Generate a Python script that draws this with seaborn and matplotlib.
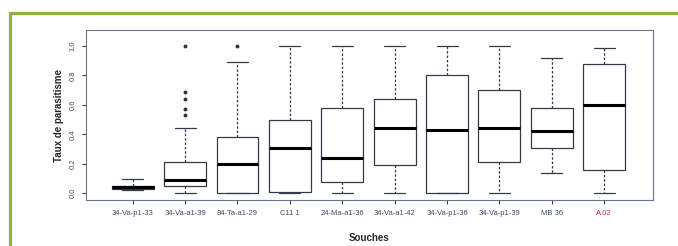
import pandas as pd
import matplotlib.pyplot as plt
import seaborn as sns
from matplotlib.lines import Line2D

# Souches et statistiques des boîtes (min, Q1, médiane, Q3, max des moustaches)
souches = ['34-Va-p1-33', '34-Va-a1-39', '84-Ta-a1-29', 'C11 1', '24-Ma-a1-36',
           '34-Va-a1-42', '34-Va-p1-36', '34-Va-p1-39', 'MB 36', 'A.02']
bas = [0.02, 0.00, 0.00, 0.00, 0.00, 0.00, 0.00, 0.00, 0.14, 0.00]
q1 = [0.03, 0.05, 0.00, 0.01, 0.075, 0.19, 0.00, 0.215, 0.31, 0.16]
mediane = [0.04, 0.09, 0.20, 0.31, 0.24, 0.44, 0.43, 0.44, 0.425, 0.60]
q3 = [0.05, 0.21, 0.38, 0.50, 0.58, 0.64, 0.80, 0.70, 0.58, 0.88]
haut = [0.10, 0.44, 0.89, 1.00, 1.00, 1.00, 1.00, 1.00, 0.92, 0.99]

# valeurs atypiques
atyp_souche = ['34-Va-a1-39'] * 5 + ['84-Ta-a1-29']
atyp_val = [1.00, 0.69, 0.64, 0.57, 0.53, 1.00]

lignes = []
for i, s in enumerate(souches):
    for v in (bas[i], q1[i], mediane[i], q3[i], haut[i]):
        lignes.append({'Souches': s, 'Taux': v})
df = pd.DataFrame(lignes)
df_atyp = pd.DataFrame({'Souches': atyp_souche, 'Taux': atyp_val})

sns.set_style('white')
plt.rcParams['font.family'] = ['Liberation Sans', 'DejaVu Sans']

fig = plt.figure(figsize=(6.78, 2.46), dpi=100)
ax = fig.add_axes([0.127, 0.187, 0.836, 0.691])

bord = '#343a4c'
sns.boxplot(data=df, x='Souches', y='Taux', order=souches, whis=(0, 100),
            width=0.8, color='white', linecolor=bord, linewidth=0.9,
            whiskerprops={'linestyle': (0, (2, 1.5))},
            medianprops={'color': 'black', 'linewidth': 2.2},
            ax=ax)
sns.stripplot(data=df_atyp, x='Souches', y='Taux', order=souches, jitter=False,
              color='#333333', size=2.8, ax=ax)

ax.set_xlim(-0.89, 9.93)
ax.set_ylim(-0.046, 1.109)
ax.set_yticks([0.0, 0.2, 0.4, 0.6, 0.8, 1.0])
ax.set_yticklabels(['0.0', '0.2', '0.4', '0.6', '0.8', '1.0'], rotation=90,
                   va='center', fontsize=5.5, color='#3c4a6e')
ax.set_xticks(range(len(souches)))
ax.set_xticklabels(souches, fontsize=5.5, color='#3c4a6e')
ax.get_xticklabels()[-1].set_color('#e0282e')
ax.tick_params(axis='both', length=3, width=0.8, color=bord, pad=4, left=True, bottom=True)

for sp in ax.spines.values():
    sp.set_color('#6a7590')
    sp.set_linewidth(0.8)
    sp.set_linestyle((0, (1.5, 0.8)))

ax.set_ylabel('Taux de parasitisme', fontsize=7, fontweight='bold', labelpad=4)
ax.set_xlabel('Souches', fontsize=7, fontweight='bold', labelpad=12)

# cadre vert
vert = '#8cb43c'
fig.add_artist(Line2D([0.015, 1.0], [0.947, 0.947], color=vert, lw=2.3,
                      transform=fig.transFigure))
fig.add_artist(Line2D([0.015, 0.015], [0.947, 0.0], color=vert, lw=2.3,
                      transform=fig.transFigure))

fig.savefig('out.png', dpi=100)
